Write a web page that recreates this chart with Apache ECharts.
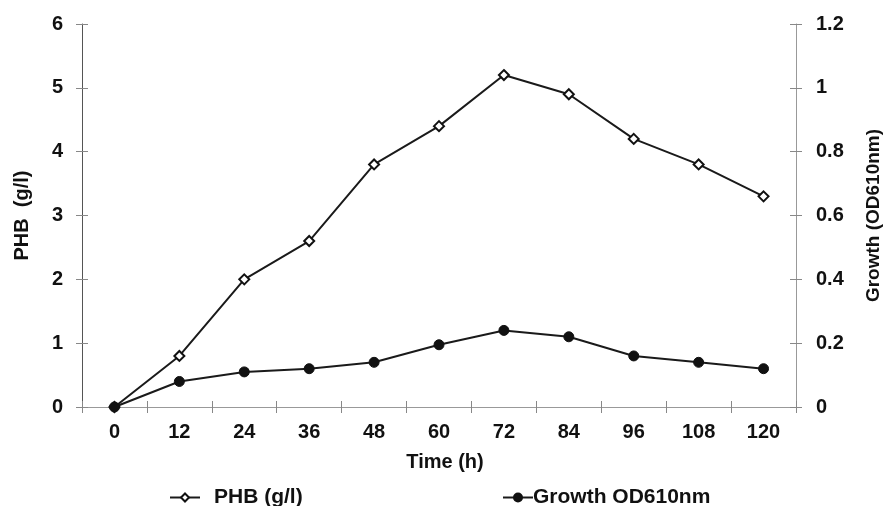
<!DOCTYPE html>
<html>
<head>
<meta charset="utf-8">
<script src="https://cdn.jsdelivr.net/npm/echarts@6/dist/echarts.min.js"></script>
<style>
  html, body { margin: 0; padding: 0; background: #fff; }
  #chart { width: 888px; height: 506px; }
</style>
</head>
<body>
<div id="chart"></div>
<script>
// time points (h)
const hours = ["0", "12", "24", "36", "48", "60", "72", "84", "96", "108", "120"];
// PHB (g/l), left axis
const phb = [0, 0.8, 2.0, 2.6, 3.8, 4.4, 5.2, 4.9, 4.2, 3.8, 3.3];
// Growth OD610nm, right axis
const growth = [0, 0.08, 0.11, 0.12, 0.14, 0.195, 0.24, 0.22, 0.16, 0.14, 0.12];

const font = "Liberation Sans, Arial, sans-serif";
const txt = (size) => ({ fontFamily: font, fontWeight: "bold", fontSize: size, color: "#111" });
const tick = { show: true, length: 6, lineStyle: { color: "#888" } };
const tickIn = { show: true, inside: true, length: 6, lineStyle: { color: "#888" } };

const chart = echarts.init(document.getElementById("chart"));
chart.setOption({
  animation: false,
  grid: { left: 82, right: 92, top: 24, bottom: 99, containLabel: false, outerBoundsMode: "none" },
  legend: [
    {
      data: ["PHB (g/l)"],
      left: 164, top: 482,
      itemWidth: 30, itemHeight: 10,
      textStyle: Object.assign(txt(21), { padding: [0, 0, 0, 9] }),
    },
    {
      data: ["Growth OD610nm"],
      left: 497, top: 482,
      itemWidth: 30, itemHeight: 10,
      textStyle: Object.assign(txt(21), { padding: [0, 0, 0, -5] }),
    },
  ],
  xAxis: [
    {
      type: "category",
      data: hours,
      boundaryGap: true,
      name: "Time (h)",
      nameLocation: "middle",
      nameGap: 45,
      nameTextStyle: Object.assign(txt(20), { padding: [0, 0, 0, 12] }),
      axisLine: { lineStyle: { color: "#888", width: 1 } },
      axisTick: tick,
      axisLabel: Object.assign({ margin: 15 }, txt(20)),
    },
    {
      type: "category",
      position: "top",
      data: hours,
      axisLine: { lineStyle: { color: "#999", width: 1 } },
      axisTick: { show: false },
      axisLabel: { show: false },
    },
    {
      type: "category",
      position: "bottom",
      data: hours,
      axisLine: { show: false },
      axisTick: tickIn,
      axisLabel: { show: false },
    },
  ],
  yAxis: [
    {
      type: "value",
      min: 0, max: 6, interval: 1,
      name: "PHB  (g/l)",
      nameLocation: "middle",
      nameGap: 50,
      nameRotate: 90,
      nameTextStyle: txt(20),
      axisLine: { show: true, lineStyle: { color: "#555", width: 1 } },
      axisTick: tick,
      axisLabel: Object.assign({ margin: 19 }, txt(20)),
      splitLine: { show: false },
    },
    {
      type: "value",
      min: 0, max: 1.2, interval: 0.2,
      name: "Growth (OD610nm)",
      nameLocation: "middle",
      nameGap: 68,
      nameRotate: 90,
      nameTextStyle: txt(19),
      axisLine: { show: true, lineStyle: { color: "#999", width: 1 } },
      axisTick: tick,
      axisLabel: Object.assign({ margin: 20, formatter: (v) => String(+v.toFixed(1)) }, txt(20)),
      splitLine: { show: false },
    },
    {
      type: "value", position: "left",
      min: 0, max: 6, interval: 1,
      axisLine: { show: false }, axisTick: tickIn,
      axisLabel: { show: false }, splitLine: { show: false },
    },
    {
      type: "value", position: "right",
      min: 0, max: 1.2, interval: 0.2,
      axisLine: { show: false }, axisTick: tickIn,
      axisLabel: { show: false }, splitLine: { show: false },
    },
  ],
  series: [
    {
      name: "PHB (g/l)",
      type: "line",
      yAxisIndex: 0,
      data: phb,
      symbol: "diamond",
      symbolSize: 10,
      lineStyle: { color: "#1a1a1a", width: 2 },
      itemStyle: { color: "#fff", borderColor: "#111", borderWidth: 2 },
    },
    {
      name: "Growth OD610nm",
      type: "line",
      yAxisIndex: 1,
      data: growth,
      symbol: "circle",
      symbolSize: 10,
      lineStyle: { color: "#1a1a1a", width: 2 },
      itemStyle: { color: "#111", borderColor: "#111", borderWidth: 1 },
    },
  ],
});
</script>
</body>
</html>
